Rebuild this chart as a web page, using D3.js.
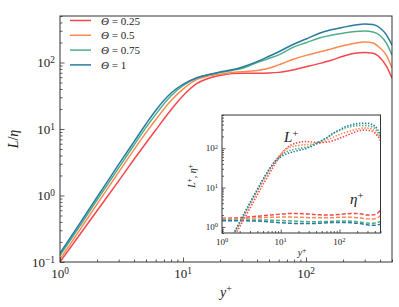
<!DOCTYPE html>
<html>
<head>
<meta charset="utf-8">
<script src="https://cdn.jsdelivr.net/npm/d3@7"></script>
<style>
  body { margin: 0; background: #fff; }
  svg { display: block; }
  text { font-family: "Liberation Serif", "DejaVu Serif", serif; fill: #222; }
  .domain { display: none; }
</style>
</head>
<body>
<script>
// wall distance grid (y+)
const yPlus = [1, 1.5, 2, 3, 4, 5, 6, 8, 10, 13, 16, 20, 25, 30, 40, 50, 60, 80, 100, 130, 160, 200, 250, 300, 350, 400, 450, 500];
const thetaLabels = ["0.25", "0.5", "0.75", "1"];

// L / eta  (main panel)
const lEta025 = [0.1, 0.282, 0.589, 1.66, 3.51, 6.17, 9.66, 19.5, 31.6, 48.4, 57.5, 63.8, 68, 69, 69, 69.5, 71, 78, 86, 97, 108, 124, 138, 141, 138, 118, 88, 58];
const lEta05  = [0.11, 0.335, 0.74, 2.25, 4.9, 8.8, 13.8, 26.9, 39.8, 55.6, 62.4, 66.8, 70.5, 72.5, 76, 82, 92, 113, 128, 145, 160, 178, 195, 203, 197, 165, 128, 83];
const lEta075 = [0.125, 0.383, 0.85, 2.6, 5.75, 10.5, 16.6, 31.6, 44.7, 58.9, 65.3, 70.5, 76, 81, 100, 115, 130, 172, 198, 235, 257, 276, 292, 298, 288, 255, 196, 130];
const lEta1   = [0.135, 0.42, 0.94, 2.93, 6.46, 11.9, 19, 34.7, 46.8, 58.9, 65.3, 72, 77.6, 85, 103, 124, 145, 190, 225, 278, 310, 338, 365, 380, 372, 330, 260, 183];

// L+ (inset, dotted)
const lPlus025 = [0.165, 0.47, 1.01, 3.0, 6.6, 11.9, 19.1, 40, 67, 105, 126, 140, 148, 146, 141, 140, 142, 158, 179, 209, 238, 270, 290, 285, 276, 242, 198, 157];
const lPlus05  = [0.18, 0.55, 1.22, 3.8, 8.3, 15.1, 24, 47, 71, 99.5, 111, 118, 123, 125, 129, 139, 156, 194, 224, 255, 280, 306, 324, 325, 311, 267, 220, 162];
const lPlus075 = [0.19, 0.57, 1.27, 3.9, 8.6, 15.7, 24.7, 46.5, 65, 84, 92, 98, 104, 110, 136, 158, 179, 241, 281, 334, 360, 375, 380, 373, 354, 319, 255, 179];
const lPlus1   = [0.19, 0.6, 1.34, 4.2, 9.1, 16.4, 25.7, 45.5, 60, 73.6, 80, 88, 95, 104, 127, 155, 184, 245, 293, 361, 397, 419, 431, 429, 409, 363, 294, 216];

// eta+ (inset, dashed)
const etaPlus025 = [1.65, 1.68, 1.72, 1.8, 1.87, 1.93, 1.98, 2.05, 2.12, 2.18, 2.2, 2.2, 2.17, 2.12, 2.05, 2.02, 2.0, 2.02, 2.08, 2.15, 2.2, 2.18, 2.1, 2.02, 2.0, 2.05, 2.25, 2.7];
const etaPlus05  = [1.62, 1.63, 1.65, 1.68, 1.7, 1.72, 1.74, 1.76, 1.78, 1.79, 1.78, 1.76, 1.74, 1.72, 1.7, 1.7, 1.7, 1.72, 1.75, 1.76, 1.75, 1.72, 1.66, 1.6, 1.58, 1.62, 1.72, 1.95];
const etaPlus075 = [1.5, 1.5, 1.5, 1.5, 1.5, 1.5, 1.49, 1.47, 1.45, 1.43, 1.41, 1.39, 1.37, 1.36, 1.36, 1.37, 1.38, 1.4, 1.42, 1.42, 1.4, 1.36, 1.3, 1.25, 1.23, 1.25, 1.3, 1.38];
const etaPlus1   = [1.44, 1.44, 1.43, 1.42, 1.41, 1.38, 1.35, 1.31, 1.28, 1.25, 1.23, 1.22, 1.22, 1.22, 1.23, 1.25, 1.27, 1.29, 1.3, 1.3, 1.28, 1.24, 1.18, 1.13, 1.1, 1.1, 1.13, 1.18];

const colors = ["#f4474b", "#fb8a50", "#4fae8a", "#2a7aa0"];

const lEta = [lEta025, lEta05, lEta075, lEta1];
const lPlus = [lPlus025, lPlus05, lPlus075, lPlus1];
const etaPlus = [etaPlus025, etaPlus05, etaPlus075, etaPlus1];

const width = 399, height = 307;

const svg = d3.select("body").append("svg")
  .attr("width", width)
  .attr("height", height);

// main scales
const x = d3.scaleLog().domain([1, 500]).range([60, 392]);
const y = d3.scaleLog().domain([0.1, 500]).range([262, 16]);

// writes "10^k" as text with a raised exponent
function powLabel(sel, v) {
  const e = Math.round(Math.log10(v));
  sel.text("10")
    .append("tspan")
    .attr("dy", "-0.42em")
    .attr("font-size", "0.72em")
    .text(e < 0 ? "\u2212" + (-e) : e);
}

function logAxes(g, xs, ys, opt) {
  const isMajor = v => Math.abs(Math.log10(v) - Math.round(Math.log10(v))) < 1e-6;
  const xt = xs.ticks().filter(v => v >= xs.domain()[0] && v <= xs.domain()[1]);
  const yt = ys.ticks().filter(v => v >= ys.domain()[0] && v <= ys.domain()[1]);
  const y0 = ys.range()[0], x0 = xs.range()[0];

  // ticks pointing inward
  g.append("g").attr("transform", `translate(0,${y0})`)
    .call(d3.axisBottom(xs).tickValues(xt.filter(isMajor)).tickSize(-opt.major).tickFormat(""));
  g.append("g").attr("transform", `translate(0,${y0})`)
    .call(d3.axisBottom(xs).tickValues(xt.filter(v => !isMajor(v))).tickSize(-opt.minor).tickFormat(""));
  g.append("g").attr("transform", `translate(${x0},0)`)
    .call(d3.axisLeft(ys).tickValues(yt.filter(isMajor)).tickSize(-opt.major).tickFormat(""));
  g.append("g").attr("transform", `translate(${x0},0)`)
    .call(d3.axisLeft(ys).tickValues(yt.filter(v => !isMajor(v))).tickSize(-opt.minor).tickFormat(""));
  g.selectAll(".tick line").attr("stroke", "#333").attr("stroke-width", 0.8);

  g.selectAll(".xlab").data(xt.filter(isMajor)).enter()
    .append("text")
    .attr("x", d => xs(d))
    .attr("y", y0 + opt.xoff)
    .attr("text-anchor", "middle")
    .attr("font-size", opt.fs)
    .each(function(d) { powLabel(d3.select(this), d); });

  g.selectAll(".ylab").data(yt.filter(isMajor)).enter()
    .append("text")
    .attr("x", x0 - opt.yoff)
    .attr("y", d => ys(d) + opt.fs * 0.35)
    .attr("text-anchor", "end")
    .attr("font-size", opt.fs)
    .each(function(d) { powLabel(d3.select(this), d); });

  // frame
  g.append("rect")
    .attr("x", xs.range()[0]).attr("y", ys.range()[1])
    .attr("width", xs.range()[1] - xs.range()[0])
    .attr("height", ys.range()[0] - ys.range()[1])
    .attr("fill", "none")
    .attr("stroke", "#333")
    .attr("stroke-width", 1);
}

// ---- main panel
svg.append("clipPath").attr("id", "clipMain")
  .append("rect").attr("x", 60).attr("y", 16).attr("width", 332).attr("height", 246);

const mainLine = d3.line()
  .x(d => x(d[0]))
  .y(d => y(d[1]))
  .curve(d3.curveMonotoneX);

const gMain = svg.append("g");
gMain.append("g").attr("clip-path", "url(#clipMain)")
  .selectAll("path").data(lEta).enter()
  .append("path")
  .attr("d", s => mainLine(yPlus.map((v, i) => [v, s[i]])))
  .attr("fill", "none")
  .attr("stroke", (s, i) => colors[i])
  .attr("stroke-width", 1.5);

logAxes(gMain, x, y, { major: 4.5, minor: 2.5, fs: 13, xoff: 16, yoff: 5 });

// axis titles
svg.append("text")
  .attr("x", 226).attr("y", 297)
  .attr("text-anchor", "middle")
  .attr("font-size", 14)
  .call(t => {
    t.append("tspan").attr("font-style", "italic").text("y");
    t.append("tspan").attr("dy", "-0.45em").attr("font-size", "0.72em").text("+");
  });

svg.append("text")
  .attr("transform", "translate(18,139) rotate(-90)")
  .attr("text-anchor", "middle")
  .attr("font-size", 14)
  .call(t => {
    t.append("tspan").attr("font-style", "italic").text("L");
    t.append("tspan").text("/");
    t.append("tspan").attr("font-style", "italic").text("\u03b7");
  });

// legend
const leg = svg.append("g").selectAll("g").data(thetaLabels).enter()
  .append("g")
  .attr("transform", (d, i) => `translate(0,${20.5 + i * 14.8})`);
leg.append("line")
  .attr("x1", 70).attr("x2", 91)
  .attr("stroke", (d, i) => colors[i])
  .attr("stroke-width", 1.5);
leg.append("text")
  .attr("x", 101).attr("y", 4)
  .attr("font-size", 11)
  .call(t => {
    t.append("tspan").attr("font-style", "italic").text("\u0398");
    t.append("tspan").text(d => " = " + d);
  });

// ---- inset
const xi = d3.scaleLog().domain([1, 500]).range([222, 380.5]);
const yi = d3.scaleLog().domain([0.7, 700]).range([233, 115]);

const gIn = svg.append("g");
gIn.append("rect")
  .attr("x", 222).attr("y", 115)
  .attr("width", 158.5).attr("height", 118)
  .attr("fill", "#fff");

svg.append("clipPath").attr("id", "clipIn")
  .append("rect").attr("x", 222).attr("y", 115).attr("width", 158.5).attr("height", 118);

const inLine = d3.line()
  .x(d => xi(d[0]))
  .y(d => yi(d[1]))
  .curve(d3.curveMonotoneX);

const gInLines = gIn.append("g").attr("clip-path", "url(#clipIn)");
gInLines.selectAll(".eta").data(etaPlus).enter()
  .append("path")
  .attr("class", "eta")
  .attr("d", s => inLine(yPlus.map((v, i) => [v, s[i]])))
  .attr("fill", "none")
  .attr("stroke", (s, i) => colors[i])
  .attr("stroke-width", 1.5)
  .attr("stroke-dasharray", "4,2");
gInLines.selectAll(".lp").data(lPlus).enter()
  .append("path")
  .attr("class", "lp")
  .attr("d", s => inLine(yPlus.map((v, i) => [v, s[i]])))
  .attr("fill", "none")
  .attr("stroke", (s, i) => colors[i])
  .attr("stroke-width", 1.6)
  .attr("stroke-dasharray", "1.4,1.6");

logAxes(gIn, xi, yi, { major: 3.5, minor: 2, fs: 9, xoff: 12, yoff: 4 });

gIn.append("text")
  .attr("x", 302).attr("y", 256)
  .attr("text-anchor", "middle")
  .attr("font-size", 10)
  .call(t => {
    t.append("tspan").attr("font-style", "italic").text("y");
    t.append("tspan").attr("dy", "-0.45em").attr("font-size", "0.72em").text("+");
  });

gIn.append("text")
  .attr("transform", "translate(195,176) rotate(-90)")
  .attr("text-anchor", "middle")
  .attr("font-size", 10)
  .call(t => {
    t.append("tspan").attr("font-style", "italic").text("L");
    t.append("tspan").attr("dy", "-0.45em").attr("font-size", "0.72em").text("+");
    t.append("tspan").attr("dy", "0.45em").text(", ");
    t.append("tspan").attr("font-style", "italic").text("\u03b7");
    t.append("tspan").attr("dy", "-0.45em").attr("font-size", "0.72em").text("+");
  });

gIn.append("text")
  .attr("x", 284).attr("y", 142)
  .attr("font-size", 15)
  .call(t => {
    t.append("tspan").attr("font-style", "italic").text("L");
    t.append("tspan").attr("dy", "-0.45em").attr("font-size", "0.72em").text("+");
  });

gIn.append("text")
  .attr("x", 350).attr("y", 204)
  .attr("font-size", 15)
  .call(t => {
    t.append("tspan").attr("font-style", "italic").text("\u03b7");
    t.append("tspan").attr("dy", "-0.45em").attr("font-size", "0.72em").text("+");
  });
</script>
</body>
</html>
